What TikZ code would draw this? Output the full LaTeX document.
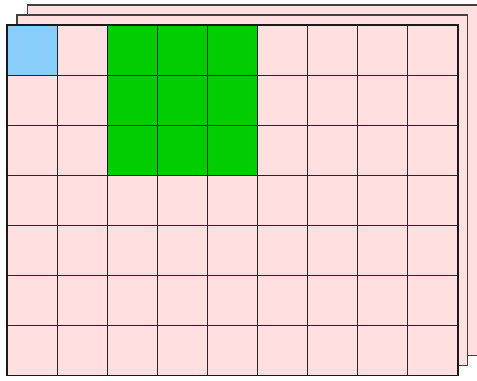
\documentclass[tikz,border=0pt]{standalone}
\usepackage{xcolor}
\definecolor{sheetpink}{HTML}{FFDFDF}
\definecolor{cornerblue}{HTML}{87CEFA}
\definecolor{kernelgreen}{HTML}{00CC00}

\begin{document}
\begin{tikzpicture}[x=50.1pt, y=-50.1pt, sheet/.style={draw=black!75, fill=sheetpink, line width=1.1pt}, gridline/.style={draw=black!85, line width=0.7pt}]
\useasboundingbox (-0.14,-0.499) rectangle (9.381,7.086);
% stacked sheets behind
\foreach \o in {0.4,0.2}
  \filldraw[sheet] (\o,-\o) rectangle (9+\o,7-\o);
% front sheet
\fill[sheetpink] (0,0) rectangle (9,7);
\fill[cornerblue] (0,0) rectangle (1,1);
\fill[kernelgreen] (2,0) rectangle (5,3);
\foreach \i in {1,...,8} \draw[gridline] (\i,0) -- (\i,7);
\foreach \j in {1,...,6} \draw[gridline] (0,\j) -- (9,\j);
\draw[black!90, line width=1.2pt] (2,0) rectangle (5,3);
\draw[black!90, line width=1.2pt] (0,0) rectangle (9,7);
\end{tikzpicture}
\end{document}
